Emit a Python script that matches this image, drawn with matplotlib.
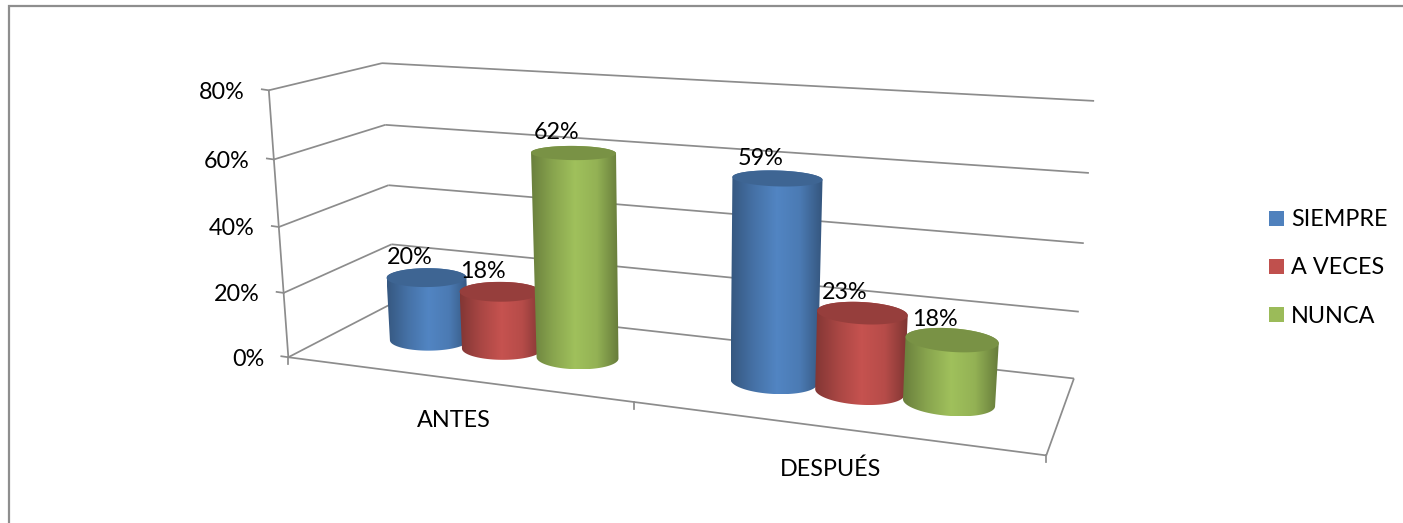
import numpy as np
import matplotlib
matplotlib.use("Agg")
import matplotlib.pyplot as plt
from matplotlib.colors import LinearSegmentedColormap, to_rgb
from matplotlib.patches import Polygon, Patch

categories = ["ANTES", "DESPUÉS"]
series_names = ["SIEMPRE", "A VECES", "NUNCA"]
siempre = [0.20, 0.59]
a_veces = [0.18, 0.23]
nunca = [0.62, 0.18]
y_ticks = [0.0, 0.2, 0.4, 0.6, 0.8]
y_tick_labels = ["0%", "20%", "40%", "60%", "80%"]

series_values = [siempre, a_veces, nunca]
series_colors = ["#4F81BD", "#C0504D", "#9BBB59"]

plt.rcParams["font.family"] = ["Lato", "DejaVu Sans"]
W, H = 1403, 523
FONT = 16.8
GRID = "#8C8C8C"

# camera calibration: scene box (category, depth, value) -> image position
box_scene = np.array([[0, 0, 0], [0, 0, .8], [0, 1, 0], [0, 1, .8], [2, 1, 0], [2, 1, .8], [2, 0, 0], [1, 0, 0],
                      [0, 0, .4], [0, 1, .4], [2, 1, .4]], float)
box_image = np.array([[288, 357], [269, 90], [395, 302], [382, 63], [1074, 378], [1094, 101], [1046, 456], [634, 402],
                      [279, 227], [388, 186], [1084, 243]], float)


def fit_camera(scene, image):
    rows, rhs = [], []
    for (a, b, c), (x, y) in zip(scene, image / 1000):
        rows.append([a, b, c, 1, 0, 0, 0, 0, -x * a, -x * b, -x * c]); rhs.append(x)
        rows.append([0, 0, 0, 0, a, b, c, 1, -y * a, -y * b, -y * c]); rhs.append(y)
    p = np.linalg.lstsq(np.array(rows), np.array(rhs), rcond=None)[0]
    return np.append(p, 1).reshape(3, 4)


CAM = fit_camera(box_scene, box_image)


def project(u, v, z):
    u, v, z = np.broadcast_arrays(u, v, z)
    q = CAM @ np.vstack([u.ravel(), v.ravel(), z.ravel(), np.ones(u.size)])
    return np.column_stack([q[0] / q[2], q[1] / q[2]]) * 1000


def hull(points):
    pts = sorted(map(tuple, points))
    def half(seq):
        out = []
        for p in seq:
            while len(out) > 1 and ((out[-1][0] - out[-2][0]) * (p[1] - out[-2][1])
                                    - (out[-1][1] - out[-2][1]) * (p[0] - out[-2][0])) <= 0:
                out.pop()
            out.append(p)
        return out[:-1]
    return np.array(half(pts) + half(pts[::-1]))


def shade(color, f):
    return tuple(np.clip(np.array(to_rgb(color)) * f, 0, 1))


fig = plt.figure(figsize=(W / 100, H / 100), dpi=100)
ax = fig.add_axes([0, 0, 1, 1])
ax.set_xlim(0, W)
ax.set_ylim(H, 0)
ax.axis("off")

# chart-area border
ax.plot([8.5, 8.5, W], [H, 6, 6], color="#8E8E8E", lw=1.6, solid_joinstyle="miter", zorder=1)


def seg(a, b, lw=1.25):
    p = project(*np.array([a, b]).T)
    ax.plot(p[:, 0], p[:, 1], color=GRID, lw=lw, zorder=2, solid_capstyle="butt")


# walls and floor
for z in y_ticks:
    seg((0, 0, z), (0, 1, z))
    seg((0, 1, z), (2, 1, z))
seg((0, 0, 0), (0, 0, y_ticks[-1]))
seg((0, 0, 0), (2, 0, 0))
seg((2, 0, 0), (2, 1, 0))

for z, lab in zip(y_ticks, y_tick_labels):
    x, y = project(0, 0, z)[0]
    ax.plot([x - 7, x], [y - 1, y], color=GRID, lw=1.25, zorder=2)
    ax.text(x - 24, y + 2, lab, ha="right", va="center", fontsize=FONT, color="black")
for u in range(len(categories) + 1):
    x, y = project(u, 0, 0)[0]
    ax.plot([x, x], [y, y + 7], color=GRID, lw=1.25, zorder=2)
for i, cat in enumerate(categories):
    x, y = project(i + 0.5, 0, 0)[0]
    ax.text(x, y + 42, cat, ha="center", va="center", fontsize=FONT, color="black")

# cylinders
BAR = 0.225
RV = 0.17
VC = 0.48
UC = 0.505
theta = np.linspace(0, 2 * np.pi, 121)[:-1]
order = 3
for c in range(len(categories)):
    for s, (vals, col) in enumerate(zip(series_values, series_colors)):
        val = vals[c]
        uc = c + UC + (s - 1) * BAR
        uu = uc + BAR / 2 * np.cos(theta)
        vv = VC + RV * np.sin(theta)
        bottom = project(uu, vv, 0.0)
        top = project(uu, vv, val)
        outline = hull(np.vstack([bottom, top]))
        poly = Polygon(outline, closed=True, facecolor="none", edgecolor="none", zorder=order)
        ax.add_patch(poly)
        cmap = LinearSegmentedColormap.from_list(
            "c", [shade(col, .68), shade(col, .88), shade(col, 1.03), shade(col, .95), shade(col, .66)])
        x0, x1 = outline[:, 0].min(), outline[:, 0].max()
        y0, y1 = outline[:, 1].min(), outline[:, 1].max()
        im = ax.imshow(np.linspace(0, 1, 256)[None, :], cmap=cmap, extent=(x0, x1, y1, y0), aspect="auto",
                       interpolation="bilinear", zorder=order + 0.1)
        im.set_clip_path(poly)
        ax.add_patch(Polygon(top, closed=True, facecolor=shade(col, .78), edgecolor="none", zorder=order + 0.2))
        order += 1
        tx, ty = project(uc, VC, val)[0]
        ax.text(tx - 17, ty - 20, f"{val:.0%}", ha="center", va="center", fontsize=FONT, color="black", zorder=50)

ax.set_xlim(0, W)
ax.set_ylim(H, 0)

handles = [Patch(facecolor=c, edgecolor="none", label=n) for c, n in zip(series_colors, series_names)]
ax.legend(handles=handles, loc="center left", bbox_to_anchor=(1262 / W, 1 - 268 / H), frameon=False, fontsize=FONT,
          handlelength=0.64, handleheight=0.64, handletextpad=0.3, labelspacing=1.16, borderpad=0, borderaxespad=0.3)

fig.savefig("out.png", dpi=100)
